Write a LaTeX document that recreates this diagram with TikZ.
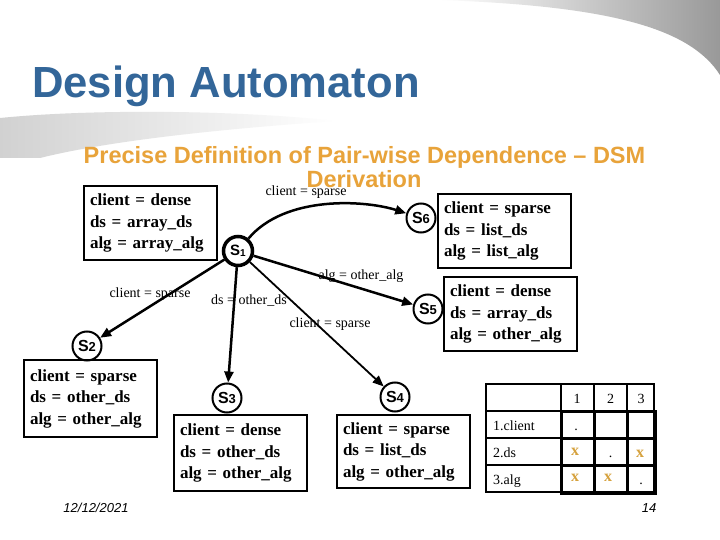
\documentclass[tikz,border=0pt]{standalone}
\usepackage{fontspec}
\setmainfont{Liberation Serif}
\newfontfamily\arialf{Liberation Sans}
\usetikzlibrary{arrows.meta}
\definecolor{titleblue}{RGB}{51,102,153}
\definecolor{suborange}{RGB}{232,163,58}
\definecolor{xgold}{RGB}{214,162,62}
\begin{document}
\begin{tikzpicture}[x=1pt,y=-1pt,
  statebox/.style={draw, line width=2pt, anchor=north west, minimum width=133pt, minimum height=74pt,
    text width=121pt, inner xsep=6pt, inner ysep=0pt, align=left, font=\fontsize{17}{21.5}\selectfont\bfseries},
  state/.style={circle, draw, line width=2pt, minimum size=29pt, inner sep=0pt, font=\arialf},
  edge/.style={line width=2.5pt, -{Triangle[length=11pt,width=9pt]}},
  elabel/.style={font=\fontsize{14}{16}\selectfont, inner sep=0pt},
  cell/.style={font=\fontsize{14}{16}\selectfont, inner sep=0pt, anchor=base},
  xmark/.style={font=\fontsize{16}{16}\selectfont\bfseries, text=xgold, inner sep=0pt, anchor=base},
  thin grid/.style={line width=1.5pt},
  thick grid/.style={line width=3pt}]
\useasboundingbox (0,0) rectangle (720,540);
\fill[white] (0,0) rectangle (720,540);
% decorative swooshes
\shade[left color=white, right color=black!40, draw=none]
  (440,0) -- (720,0) -- (720,75) .. controls (690,28) and (610,6) .. (440,0) -- cycle;
\shade[left color=black!18, middle color=black!38, right color=white, draw=none]
  (0,118) .. controls (100,108) and (250,111) .. (335,121)
  .. controls (250,127) and (120,138) .. (40,158) -- (0,158) -- cycle;
% titles
\node[anchor=base west, inner sep=0pt, font=\arialf\bfseries\fontsize{43.6}{46}\selectfont, text=titleblue]
  (title) at (32,98) {Design Automaton};
\node[anchor=base, inner sep=0pt, font=\arialf\bfseries\fontsize{23.5}{25}\selectfont, text=suborange]
  (sub1) at (364.5,164) {Precise Definition of Pair-wise Dependence – DSM};
\node[anchor=base, inner sep=0pt, font=\arialf\bfseries\fontsize{23.5}{25}\selectfont, text=suborange]
  (sub2) at (364,188) {Derivation};
% boxes
\node[statebox] (b1) at (83,185) {client = dense\\ds = array\_ds\\alg = array\_alg};
\node[statebox] (b6) at (437,193) {client = sparse\\ds = list\_ds\\alg = list\_alg};
\node[statebox] (b5) at (443,276) {client = dense\\ds = array\_ds\\alg = other\_alg};
\node[statebox, minimum height=77pt] (b2) at (23,359) {client = sparse\\ds = other\_ds\\alg = other\_alg};
\node[statebox, minimum height=76pt] (b3) at (173,414) {client = dense\\ds = other\_ds\\alg = other\_alg};
\node[statebox, minimum height=73pt] (b4) at (336,414) {client = sparse\\ds = list\_ds\\alg = other\_alg};
% states
\node[state, line width=3.5pt] (s1) at (238,251) {{\bfseries\fontsize{15}{15}\selectfont S}{\bfseries\fontsize{10}{10}\selectfont\raisebox{-1pt}{1}}};
\node[state] (s6) at (421,218) {{\bfseries\fontsize{16}{16}\selectfont S}{\bfseries\fontsize{13}{13}\selectfont 6}};
\node[state] (s5) at (428,309) {{\bfseries\fontsize{16}{16}\selectfont S}{\bfseries\fontsize{13}{13}\selectfont 5}};
\node[state] (s2) at (87,346) {{\bfseries\fontsize{16}{16}\selectfont S}{\bfseries\fontsize{13}{13}\selectfont 2}};
\node[state] (s3) at (227,398) {{\bfseries\fontsize{16}{16}\selectfont S}{\bfseries\fontsize{13}{13}\selectfont 3}};
\node[state] (s4) at (395,397) {{\bfseries\fontsize{16}{16}\selectfont S}{\bfseries\fontsize{13}{13}\selectfont 4}};
% edges
\draw[edge] (s1) .. controls (285,195) and (365,200) .. (s6);
\draw[edge] (s1) -- (s5);
\draw[edge, line width=1.8pt] (s1) -- (s4);
\draw[edge] (s1) -- (s3);
\draw[edge] (s1) -- (s2);
% edge labels
\node[elabel] (l16) at (306,192) {client = sparse};
\node[elabel] (l15) at (361,276) {alg = other\_alg};
\node[elabel] (l14) at (330,324) {client = sparse};
\node[elabel] (l13) at (249,301) {ds = other\_ds};
\node[elabel] (l12) at (150,294) {client = sparse};
% DSM table
\draw[thin grid] (486,384) rectangle (654,492);
\foreach \yy in {411,438,465} \draw[thin grid] (486,\yy) -- (654,\yy);
\foreach \xx in {561,594,627} \draw[thin grid] (\xx,384) -- (\xx,492);
\draw[thick grid] (561,411) rectangle (655,493);
\foreach \yy in {438,465} \draw[thick grid] (561,\yy) -- (655,\yy);
\foreach \xx in {594,627} \draw[thick grid] (\xx,411) -- (\xx,493);
\node[cell] (h1) at (577,403) {1};
\node[cell] (h2) at (610.5,403) {2};
\node[cell] (h3) at (641,403) {3};
\node[cell, anchor=base west] (r1) at (493,430) {1.client};
\node[cell, anchor=base west] (r2) at (493,457) {2.ds};
\node[cell, anchor=base west] (r3) at (493,484) {3.alg};
\node[cell] (d11) at (576,430) {.};
\node[cell] (d22) at (610.5,457) {.};
\node[cell] (d33) at (641,484) {.};
\node[xmark] (x21) at (575,455) {x};
\node[xmark] (x23) at (640,457) {x};
\node[xmark] (x31) at (575,481) {x};
\node[xmark] (x32) at (608,481) {x};
% footer
\node[anchor=base, inner sep=0pt, font=\arialf\itshape\fontsize{13}{14}\selectfont] (date) at (96,512) {12/12/2021};
\node[anchor=base, inner sep=0pt, font=\arialf\itshape\fontsize{13}{14}\selectfont] (page) at (649,512) {14};
\end{tikzpicture}
\end{document}
